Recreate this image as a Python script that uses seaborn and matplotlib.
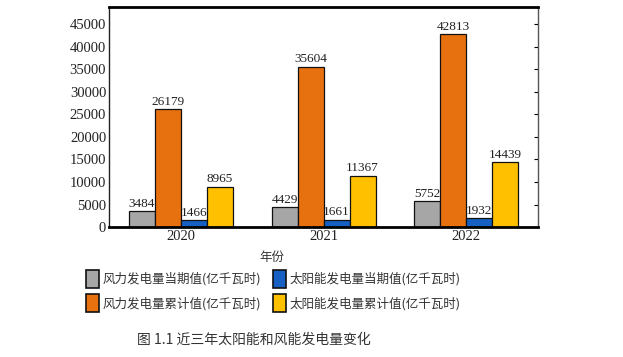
import pandas as pd
import numpy as np
import matplotlib
matplotlib.use('Agg')
import matplotlib.pyplot as plt
import seaborn as sns

# Datos
years = ['2020', '2021', '2022']
series = ['风力发电量当期值(亿千瓦时)', '风力发电量累计值(亿千瓦时)',
          '太阳能发电量当期值(亿千瓦时)', '太阳能发电量累计值(亿千瓦时)']
wind_current = [3484, 4429, 5752]
wind_total = [26179, 35604, 42813]
solar_current = [1466, 1661, 1932]
solar_total = [8965, 11367, 14439]
colors = ['#A6A6A6', '#E8710F', '#1560C2', '#FFC000']

rows = []
for s, vals in zip(series, [wind_current, wind_total, solar_current, solar_total]):
    for y, v in zip(years, vals):
        rows.append({'year': y, 'serie': s, 'valor': v})
df = pd.DataFrame(rows)

sns.set_style('white')
plt.rcParams['font.family'] = ['Liberation Serif', 'Noto Sans CJK SC']

fig = plt.figure(figsize=(6.23, 3.57), dpi=100)
ax = fig.add_axes([0.175, 0.364, 0.6886, 0.6163])

sns.barplot(data=df, x='year', y='valor', hue='serie', hue_order=series,
            palette=colors, saturation=1, width=0.73, gap=0,
            edgecolor='#111111', linewidth=0.9, ax=ax, legend=False)

for c in ax.containers:
    ax.bar_label(c, fmt='%d', fontsize=9.5, padding=1,
                 family='Liberation Serif', color='#222222')

ax.set_xlim(-0.505, 2.505)
ax.set_ylim(0, 48800)
ax.set_yticks(np.arange(0, 45001, 5000))
ax.tick_params(axis='y', direction='in', length=3, right=True, labelsize=10.5,
               colors='black', labelcolor='#222222', pad=2)
ax.tick_params(axis='x', length=0, labelsize=10.5, labelcolor='#222222', pad=2)
for lab in ax.get_xticklabels() + ax.get_yticklabels():
    lab.set_family('Liberation Serif')
ax.set_xlabel('')
ax.set_ylabel('')

for side in ['top', 'bottom']:
    ax.spines[side].set_linewidth(2)
    ax.spines[side].set_color('black')
ax.spines['left'].set_linewidth(1)
ax.spines['left'].set_color('#222222')
ax.spines['right'].set_linewidth(1)
ax.spines['right'].set_color('#555555')

# Etiqueta eje x y leyenda
fig.text(0.437, 0.28, '年份', ha='center', va='center', fontsize=9,
         family='Noto Sans CJK SC', color='#333333')

handles = [plt.Rectangle((0, 0), 1, 1, facecolor=c, edgecolor='#111111', linewidth=1.2)
           for c in colors]
fig.legend(handles, series,
           loc='center', bbox_to_anchor=(0.439, 0.185), ncol=2, frameon=False,
           prop={'family': 'Noto Sans CJK SC', 'size': 9},
           handlelength=1.0, handleheight=1.8, handletextpad=0.3,
           columnspacing=1.0, labelspacing=0.55, labelcolor='#333333')

fig.text(0.408, 0.047, '图 1.1 近三年太阳能和风能发电量变化', ha='center', va='center',
         fontsize=10, family='Noto Sans CJK SC', color='#333333')

fig.savefig('out.png', dpi=100)
